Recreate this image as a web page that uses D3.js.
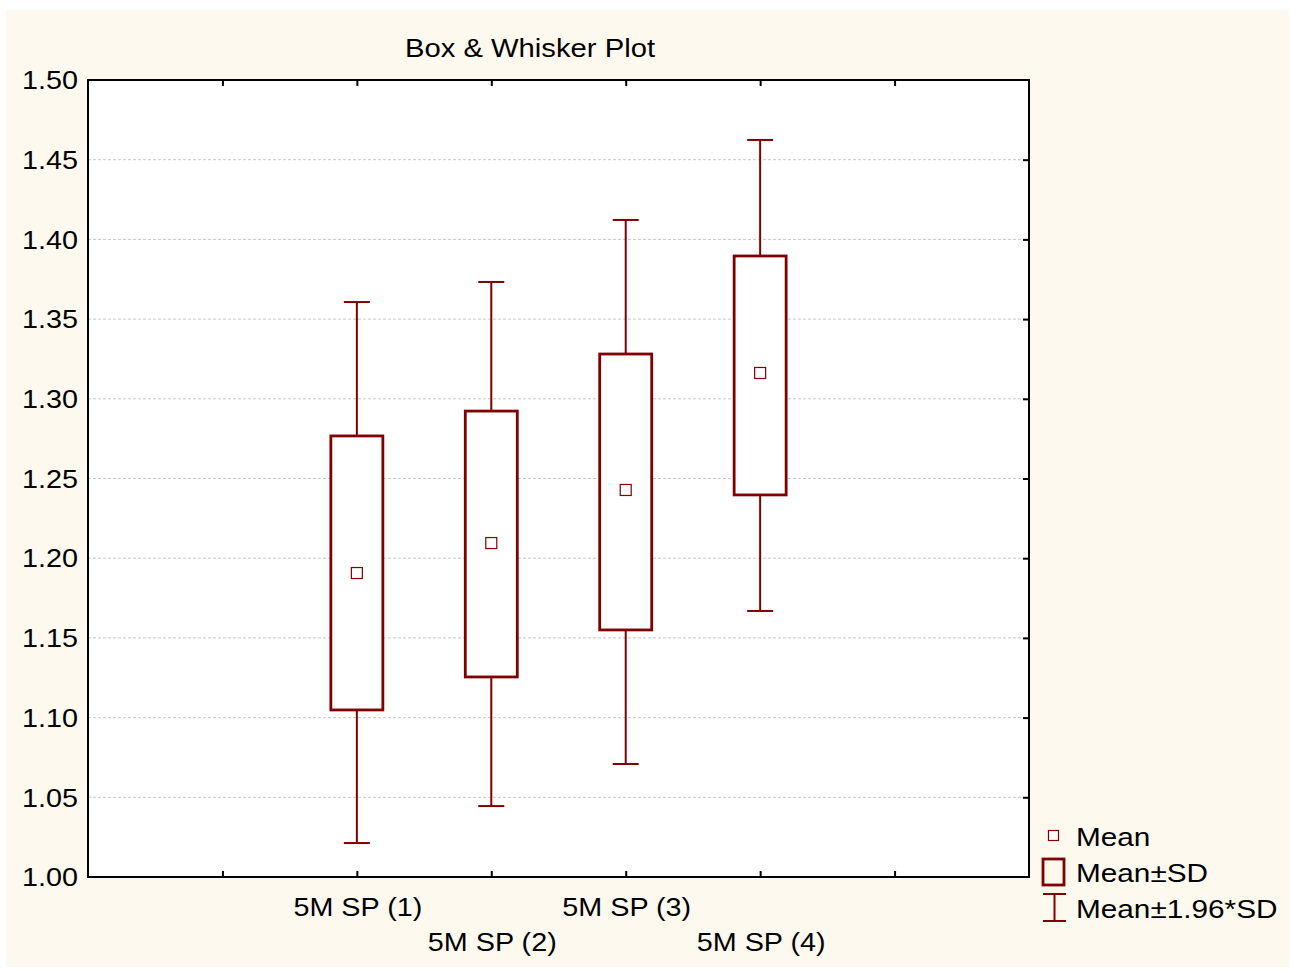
<!DOCTYPE html>
<html>
<head>
<meta charset="utf-8">
<title>Box & Whisker Plot</title>
<style>
  body { margin: 0; background: #fff; }
  text { font-family: "Liberation Sans", Arial, sans-serif; fill: #000; }
</style>
</head>
<body>
<script src="https://d3js.org/d3.v7.min.js"></script>
<script>
// data
var categories = ["5M SP (1)", "5M SP (2)", "5M SP (3)", "5M SP (4)"];
var means      = [1.1907, 1.2095, 1.2428, 1.3162];
var sdLow      = [1.1048, 1.1255, 1.1550, 1.2397];
var sdHigh     = [1.2767, 1.2923, 1.3281, 1.3896];
var ciLow      = [1.0213, 1.0445, 1.0709, 1.1669];
var ciHigh     = [1.3607, 1.3733, 1.4122, 1.4624];
var yTicks     = [1.00, 1.05, 1.10, 1.15, 1.20, 1.25, 1.30, 1.35, 1.40, 1.45, 1.50];
var legendItems = ["Mean", "Mean\u00b1SD", "Mean\u00b11.96*SD"];

var W = 1291, H = 970;
var plot = {left: 88, top: 80, right: 1029, bottom: 877};
var red = "#800000";
var sx = 1.15; // the original font is a bit wider than Liberation Sans

var svg = d3.select("body").append("svg")
    .attr("width", W).attr("height", H);

svg.append("rect")
    .attr("x", 6).attr("y", 10).attr("width", 1283).attr("height", 957)
    .attr("fill", "#fdf9ef");

var x = d3.scaleLinear().domain([0, 7]).range([plot.left, plot.right]);
var y = d3.scaleLinear().domain([1.0, 1.5]).range([plot.bottom, plot.top]);

svg.append("rect")
    .attr("x", plot.left).attr("y", plot.top)
    .attr("width", plot.right - plot.left).attr("height", plot.bottom - plot.top)
    .attr("fill", "#fff");

// grid
svg.append("g").selectAll("line")
    .data(yTicks.slice(1, -1))
    .join("line")
    .attr("x1", plot.left).attr("x2", plot.right)
    .attr("y1", function(d){ return y(d); }).attr("y2", function(d){ return y(d); })
    .attr("stroke", "#c8c8c8").attr("stroke-width", 1)
    .attr("stroke-dasharray", "3,2");

var data = categories.map(function(c, i){
  return {name: c, pos: i + 2, mean: means[i], lo: sdLow[i], hi: sdHigh[i], wlo: ciLow[i], whi: ciHigh[i]};
});

var g = svg.append("g");
var boxW = 52, capW = 26;

var item = g.selectAll(".item").data(data).join("g").attr("class", "item");

// whiskers
item.append("line")
    .attr("x1", function(d){ return x(d.pos); }).attr("x2", function(d){ return x(d.pos); })
    .attr("y1", function(d){ return y(d.whi); }).attr("y2", function(d){ return y(d.hi); })
    .attr("stroke", red).attr("stroke-width", 2);
item.append("line")
    .attr("x1", function(d){ return x(d.pos); }).attr("x2", function(d){ return x(d.pos); })
    .attr("y1", function(d){ return y(d.lo); }).attr("y2", function(d){ return y(d.wlo); })
    .attr("stroke", red).attr("stroke-width", 2);
item.append("line")
    .attr("x1", function(d){ return x(d.pos) - capW / 2; }).attr("x2", function(d){ return x(d.pos) + capW / 2; })
    .attr("y1", function(d){ return y(d.whi); }).attr("y2", function(d){ return y(d.whi); })
    .attr("stroke", red).attr("stroke-width", 2);
item.append("line")
    .attr("x1", function(d){ return x(d.pos) - capW / 2; }).attr("x2", function(d){ return x(d.pos) + capW / 2; })
    .attr("y1", function(d){ return y(d.wlo); }).attr("y2", function(d){ return y(d.wlo); })
    .attr("stroke", red).attr("stroke-width", 2);

// boxes
item.append("rect")
    .attr("x", function(d){ return x(d.pos) - boxW / 2; })
    .attr("y", function(d){ return y(d.hi); })
    .attr("width", boxW)
    .attr("height", function(d){ return y(d.lo) - y(d.hi); })
    .attr("fill", "#fff").attr("stroke", red).attr("stroke-width", 2.8);

// means
item.append("rect")
    .attr("x", function(d){ return x(d.pos) - 5.5; })
    .attr("y", function(d){ return y(d.mean) - 5.5; })
    .attr("width", 11).attr("height", 11)
    .attr("fill", "#fff").attr("stroke", red).attr("stroke-width", 1.2);

// frame
svg.append("rect")
    .attr("x", plot.left).attr("y", plot.top)
    .attr("width", plot.right - plot.left).attr("height", plot.bottom - plot.top)
    .attr("fill", "none").attr("stroke", "#000").attr("stroke-width", 2);

// axes with inward ticks
var xTickVals = [1, 2, 3, 4, 5, 6];
svg.append("g")
    .attr("transform", "translate(0," + plot.bottom + ")")
    .call(d3.axisBottom(x).tickValues(xTickVals).tickSizeInner(-6).tickSizeOuter(0).tickFormat(""))
    .call(function(a){ a.select(".domain").remove(); a.selectAll("line").attr("stroke-width", 2); });
svg.append("g")
    .attr("transform", "translate(0," + plot.top + ")")
    .call(d3.axisTop(x).tickValues(xTickVals).tickSizeInner(-6).tickSizeOuter(0).tickFormat(""))
    .call(function(a){ a.select(".domain").remove(); a.selectAll("line").attr("stroke-width", 2); });
svg.append("g")
    .attr("transform", "translate(" + plot.right + ",0)")
    .call(d3.axisRight(y).tickValues(yTicks.slice(1, -1)).tickSizeInner(-6).tickSizeOuter(0).tickFormat(""))
    .call(function(a){ a.select(".domain").remove(); a.selectAll("line").attr("stroke-width", 2); });
svg.append("g")
    .attr("transform", "translate(" + plot.left + ",0)")
    .call(d3.axisLeft(y).tickValues(yTicks).tickSize(0).tickPadding(0).tickFormat(d3.format(".2f")))
    .call(function(a){
      a.select(".domain").remove();
      a.selectAll("text").attr("font-size", 25).attr("font-family", "Liberation Sans, Arial, sans-serif")
        .attr("x", -10 / sx)
        .attr("transform", "scale(" + sx + ",1)")
        .attr("fill", "#000").attr("dy", "0.35em");
    });

// category labels, staggered
svg.append("g").selectAll("text")
    .data(data)
    .join("text")
    .attr("transform", function(d, i){
      return "translate(" + (x(d.pos) + 1) + "," + (i % 2 === 0 ? 916 : 951) + ") scale(" + sx + ",1)";
    })
    .attr("text-anchor", "middle")
    .attr("font-size", 25)
    .text(function(d){ return d.name; });

// title
svg.append("text")
    .attr("transform", "translate(530,57) scale(1.17,1)")
    .attr("text-anchor", "middle")
    .attr("font-size", 25)
    .text("Box & Whisker Plot");

// legend
var lg = svg.append("g");
lg.append("rect").attr("x", 1048.5).attr("y", 830.5).attr("width", 10).attr("height", 10)
    .attr("fill", "#fff").attr("stroke", red).attr("stroke-width", 1.2);
lg.append("rect").attr("x", 1043).attr("y", 859).attr("width", 21).attr("height", 26)
    .attr("fill", "none").attr("stroke", red).attr("stroke-width", 2.8);
lg.append("line").attr("x1", 1043).attr("x2", 1066).attr("y1", 894).attr("y2", 894)
    .attr("stroke", red).attr("stroke-width", 2);
lg.append("line").attr("x1", 1043).attr("x2", 1066).attr("y1", 921).attr("y2", 921)
    .attr("stroke", red).attr("stroke-width", 2);
lg.append("line").attr("x1", 1054.5).attr("x2", 1054.5).attr("y1", 894).attr("y2", 921)
    .attr("stroke", red).attr("stroke-width", 2);
var lBase = [846, 882, 918];
lg.selectAll(".lt").data(legendItems).join("text")
    .attr("class", "lt")
    .attr("transform", function(d, i){ return "translate(1076," + lBase[i] + ") scale(1.19,1)"; })
    .attr("font-size", 25)
    .text(function(d){ return d; });
</script>
</body>
</html>
